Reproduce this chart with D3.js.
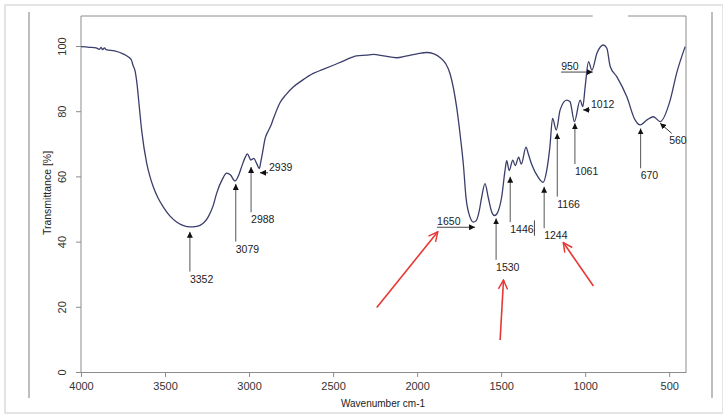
<!DOCTYPE html>
<html>
<head>
<meta charset="utf-8">
<script src="https://cdn.jsdelivr.net/npm/d3@7"></script>
<style>
  body { margin: 0; background: #fff; }
  svg { display: block; font-family: "Liberation Sans", Arial, sans-serif; }
</style>
</head>
<body>
<div id="chart"></div>
<script>
// spectrum (wavenumber cm-1 / transmittance %)
const wavenumber = [4000, 3950, 3910, 3890, 3880, 3872, 3860, 3850, 3800, 3750, 3720, 3700, 3690, 3679, 3665, 3659,
  3639, 3609, 3590, 3570, 3540, 3510, 3470, 3431, 3390, 3351, 3320, 3292, 3265, 3243, 3215, 3193, 3160, 3133, 3110,
  3084, 3060, 3044, 3025, 3010, 2998, 2990, 2980, 2971, 2955, 2939, 2930, 2919, 2905, 2885, 2870, 2856, 2816, 2780,
  2737, 2680, 2618, 2560, 2499, 2430, 2360, 2300, 2261, 2200, 2122, 2060, 2000, 1943, 1900, 1864, 1830, 1804, 1765,
  1740, 1725, 1709, 1685, 1666, 1650, 1630, 1616, 1596, 1577, 1556, 1540, 1527, 1510, 1497, 1477, 1467, 1452, 1431,
  1416, 1396, 1380, 1352, 1339, 1319, 1279, 1250, 1229, 1210, 1194, 1172, 1149, 1110, 1090, 1064, 1030, 1014, 1000,
  980, 960, 930, 891, 871, 851, 812, 752, 704, 673, 630, 594, 554, 494, 456, 405];
const transmittance = [99.8, 99.6, 99.4, 99.0, 99.6, 98.9, 99.4, 98.9, 98.5, 97.6, 96.7, 95.7, 94.0, 92.5, 87.6, 84.5,
  74.1, 64.0, 60.0, 56.8, 53.2, 50.6, 47.8, 46.0, 44.9, 44.5, 44.6, 45.0, 46.0, 47.6, 50.8, 54.8, 59.0, 61.0, 60.4,
  58.6, 60.6, 63.0, 65.6, 66.9, 65.8, 65.0, 65.3, 65.5, 64.0, 62.4, 64.5, 67.5, 71.5, 74.0, 75.6, 77.6, 82.6, 85.1,
  87.4, 89.6, 91.6, 92.8, 94.1, 95.6, 97.0, 97.2, 97.4, 97.0, 96.4, 97.0, 97.6, 98.0, 97.6, 96.5, 94.6, 91.5, 81.3,
  71.0, 63.8, 53.5, 47.5, 46.0, 46.3, 49.5, 53.6, 57.8, 53.6, 49.1, 48.0, 48.4, 50.5, 53.6, 61.8, 64.8, 61.8, 65.0,
  63.3, 65.9, 63.8, 69.0, 67.0, 63.8, 59.7, 58.2, 61.8, 69.0, 77.8, 74.2, 80.4, 83.4, 82.9, 76.8, 83.4, 81.4, 87.5,
  95.2, 92.6, 97.8, 100.3, 99.3, 93.7, 90.6, 84.4, 77.4, 75.8, 77.4, 78.3, 76.8, 83.4, 91.6, 99.8];

const xTicks = [4000, 3500, 3000, 2500, 2000, 1500, 1000, 500];
const yTicks = [0, 20, 40, 60, 80, 100];

// peaks marked with a vertical arrow: label, arrow tip and tail (transmittance)
const vPeaks = ["3352", "3079", "2988", "1530", "1446", "1244", "1166", "1061", "670"];
const vPeakTip = [43.0, 57.7, 62.9, 47.1, 59.9, 56.8, 73.2, 76.3, 74.7];
const vPeakTail = [30.8, 40.0, 49.0, 34.4, 46.0, 44.1, 53.8, 63.8, 62.5];

// peaks marked with a short arrow pointing left
const lPeaks = ["2939", "1012"];
const lPeakTip = [2935, 1012];
const lPeakTail = [2887, 971];
const lPeakT = [61.1, 80.4];

// underlined labels with an arrow pointing right
const rPeaks = ["1650", "950"];
const rPeakStart = [1881, 1143];
const rPeakTip = [1655, 955];
const rPeakT = [44.4, 92.0];

// red arrows [tail w, tail T, tip w, tip T]
const redArrows = [[2240, 19.8, 1877, 43.0], [1506, 9.8, 1486, 28.2], [951, 26.4, 1130, 39.7]];

const W = 723, H = 418;
const svg = d3.select("#chart").append("svg").attr("width", W).attr("height", H);

// screenshot frame
svg.append("rect").attr("x", 5).attr("y", 5).attr("width", 718).attr("height", 408)
  .attr("fill", "none").attr("stroke", "#dcdcdc").attr("stroke-width", 1.5);
svg.append("line").attr("x1", 29).attr("x2", 29).attr("y1", 12).attr("y2", 398)
  .attr("stroke", "#a8a8a8").attr("stroke-width", 1.5);
svg.append("line").attr("x1", 712).attr("x2", 712).attr("y1", 12).attr("y2", 398)
  .attr("stroke", "#a8a8a8").attr("stroke-width", 1.5);

const x = d3.scaleLinear().domain([4000, 400]).range([81, 686]);
const y = d3.scaleLinear().domain([0, 109.2]).range([372, 16]);

const axisColor = "#8c8c8c";
const textColor = "#333";

// defs: arrowheads
const defs = svg.append("defs");
defs.append("marker").attr("id", "tri")
  .attr("viewBox", "0 0 10 10").attr("refX", 10).attr("refY", 5)
  .attr("markerWidth", 6).attr("markerHeight", 6).attr("markerUnits", "userSpaceOnUse")
  .attr("orient", "auto")
  .append("path").attr("d", "M0,0 L10,5 L0,10 Z").attr("fill", "#111");
defs.append("marker").attr("id", "vee")
  .attr("viewBox", "0 0 12 12").attr("refX", 11).attr("refY", 6)
  .attr("markerWidth", 11).attr("markerHeight", 11).attr("markerUnits", "userSpaceOnUse")
  .attr("orient", "auto")
  .append("path").attr("d", "M1,1 L11,6 L1,11").attr("fill", "none")
  .attr("stroke", "#e53935").attr("stroke-width", 1.6);

// plot box
svg.append("line").attr("x1", 81).attr("x2", 81).attr("y1", 16).attr("y2", 372).attr("stroke", axisColor);
svg.append("line").attr("x1", 686).attr("x2", 686).attr("y1", 16).attr("y2", 372).attr("stroke", axisColor);
svg.append("line").attr("x1", 81).attr("x2", x(955)).attr("y1", 16).attr("y2", 16).attr("stroke", axisColor);
svg.append("line").attr("x1", x(745)).attr("x2", 686).attr("y1", 16).attr("y2", 16).attr("stroke", axisColor);

// x axis
const xAxis = svg.append("g")
  .attr("transform", "translate(0,372)")
  .call(d3.axisBottom(x).tickValues(xTicks).tickFormat(d3.format("d"))
    .tickSize(5).tickSizeOuter(0).tickPadding(5));
xAxis.select(".domain").attr("stroke", axisColor);
xAxis.selectAll(".tick line").attr("stroke", axisColor);
xAxis.selectAll("text").attr("fill", textColor).style("font-size", "11px")
  .style("font-family", "'Liberation Sans', Arial, sans-serif");

// y axis
const yAxis = svg.append("g")
  .attr("transform", "translate(81,0)")
  .call(d3.axisLeft(y).tickValues(yTicks).tickSize(5).tickSizeOuter(0).tickFormat(""));
yAxis.select(".domain").remove();
yAxis.selectAll(".tick line").attr("stroke", axisColor);
yAxis.selectAll(".tick").append("text")
  .attr("transform", "translate(-19,0) rotate(-90)")
  .attr("text-anchor", "middle").attr("dominant-baseline", "central")
  .attr("fill", textColor).style("font-size", "11px")
  .style("font-family", "'Liberation Sans', Arial, sans-serif")
  .text(d => d);

// axis titles
svg.append("text")
  .attr("transform", "translate(47,193) rotate(-90)")
  .attr("text-anchor", "middle").attr("dominant-baseline", "central")
  .attr("fill", "#222").style("font-size", "10.5px")
  .text("Transmittance [%]");
svg.append("text")
  .attr("x", 383).attr("y", 407)
  .attr("text-anchor", "middle")
  .attr("fill", "#222").style("font-size", "10px")
  .text("Wavenumber cm-1");

// spectrum
const spectrum = wavenumber.map((w, i) => ({ w, t: transmittance[i] }));
const line = d3.line().x(d => x(d.w)).y(d => y(d.t)).curve(d3.curveMonotoneX);
svg.append("path").datum(spectrum)
  .attr("d", line).attr("fill", "none")
  .attr("stroke", "#3b3e6b").attr("stroke-width", 1.3);

const labelStyle = sel => sel.attr("fill", "#222").style("font-size", "10.5px");

// vertical arrows
vPeaks.forEach((lab, i) => {
  const px = x(+lab);
  svg.append("line").attr("x1", px).attr("x2", px)
    .attr("y1", y(vPeakTail[i])).attr("y2", y(vPeakTip[i]))
    .attr("stroke", "#555").attr("stroke-width", 1).attr("marker-end", "url(#tri)");
  svg.append("text").attr("x", px).attr("y", y(vPeakTail[i]) + 11)
    .call(labelStyle).text(lab);
});
// stray bar after 1446
svg.append("line").attr("x1", x(1302)).attr("x2", x(1302))
  .attr("y1", y(46.5)).attr("y2", y(41.8)).attr("stroke", "#444");

// left-pointing arrows
lPeaks.forEach((lab, i) => {
  svg.append("line").attr("x1", x(lPeakTail[i])).attr("x2", x(lPeakTip[i]))
    .attr("y1", y(lPeakT[i])).attr("y2", y(lPeakT[i]))
    .attr("stroke", "#333").attr("marker-end", "url(#tri)");
  svg.append("text").attr("x", x(lPeakTail[i]) + 1).attr("y", y(lPeakT[i]) - 1.5)
    .call(labelStyle).text(lab);
});

// underlined labels, right-pointing arrows
rPeaks.forEach((lab, i) => {
  svg.append("line").attr("x1", x(rPeakStart[i])).attr("x2", x(rPeakTip[i]))
    .attr("y1", y(rPeakT[i])).attr("y2", y(rPeakT[i]))
    .attr("stroke", "#444").attr("marker-end", "url(#tri)");
  svg.append("text").attr("x", x(rPeakStart[i])).attr("y", y(rPeakT[i]) - 2)
    .call(labelStyle).text(lab);
});

// 560: diagonal arrow
svg.append("line").attr("x1", x(485)).attr("y1", y(73.2)).attr("x2", x(554)).attr("y2", y(76.3))
  .attr("stroke", "#333").attr("marker-end", "url(#tri)");
svg.append("text").attr("x", x(500)).attr("y", y(69.9)).call(labelStyle).text("560");

// red arrows
svg.selectAll(".red").data(redArrows).enter().append("line")
  .attr("class", "red")
  .attr("x1", d => x(d[0])).attr("y1", d => y(d[1]))
  .attr("x2", d => x(d[2])).attr("y2", d => y(d[3]))
  .attr("stroke", "#e53935").attr("stroke-width", 1.6)
  .attr("marker-end", "url(#vee)");
</script>
</body>
</html>
